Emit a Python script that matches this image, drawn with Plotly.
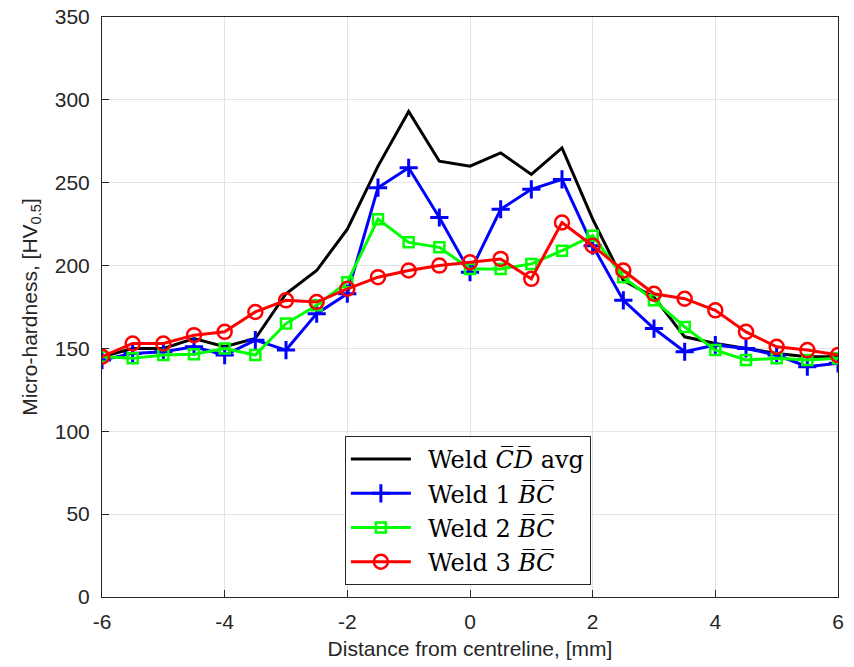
import plotly.graph_objects as go

distance = [-6, -5.5, -5, -4.5, -4, -3.5, -3, -2.5, -2, -1.5, -1, -0.5, 0,
            0.5, 1, 1.5, 2, 2.5, 3, 3.5, 4, 4.5, 5, 5.5, 6]

weld_cd_avg = [145, 150, 150, 156, 151, 156, 183, 197, 222, 260, 293, 263, 260,
               268, 255, 271, 228, 191, 181, 157, 153, 150, 147, 145, 145]
weld1_bc = [143, 147, 148, 151, 146, 155, 149, 171, 183, 247, 259, 229, 196,
            234, 246, 252, 212, 179, 162, 148, 152, 150, 146, 139, 141]
weld2_bc = [145, 144, 146, 146.5, 150, 146, 165, 176, 190, 228, 214, 211, 198,
            198, 201, 209, 218, 193, 179, 163, 149, 143, 144, 143, 144]
weld3_bc = [145, 153, 153, 158, 160, 172, 179, 178, 186, 193, 197, 200, 202,
            204, 192, 226, 212, 197, 183, 180, 173, 160, 151, 149, 146]

x_ticks = [-6, -4, -2, 0, 2, 4, 6]
y_ticks = [0, 50, 100, 150, 200, 250, 300, 350]

OL = "\u0305"
def over(s):
    return "".join(c + OL for c in s)

PAD = "\u2002"

fig = go.Figure()
fig.add_trace(go.Scatter(x=distance, y=weld_cd_avg, mode="lines",
                         line=dict(color="black", width=3),
                         name=PAD + "Weld <i>" + over("CD") + "</i> avg"))
fig.add_trace(go.Scatter(x=distance, y=weld1_bc, mode="lines+markers",
                         line=dict(color="#0000ff", width=3),
                         marker=dict(symbol="cross-thin-open", size=13,
                                     line=dict(color="#0000ff", width=3)),
                         name=PAD + "Weld 1 <i>" + over("BC") + "</i>"))
fig.add_trace(go.Scatter(x=distance, y=weld2_bc, mode="lines+markers",
                         line=dict(color="#00ff00", width=3),
                         marker=dict(symbol="square-open", size=10,
                                     line=dict(color="#00ff00", width=2.5)),
                         name=PAD + "Weld 2 <i>" + over("BC") + "</i>"))
fig.add_trace(go.Scatter(x=distance, y=weld3_bc, mode="lines+markers",
                         line=dict(color="#ff0000", width=3),
                         marker=dict(symbol="circle-open", size=14,
                                     line=dict(color="#ff0000", width=2.5)),
                         name=PAD + "Weld 3 <i>" + over("BC") + "</i>"))

axis_common = dict(showline=True, linecolor="#262626", linewidth=1, mirror=True,
                   ticks="inside", ticklen=7, tickcolor="#262626",
                   showgrid=True, gridcolor="#e3e3e3", gridwidth=1,
                   zeroline=False, automargin=False,
                   tickfont=dict(family="Liberation Sans, Arial", size=21, color="#262626"))

fig.update_xaxes(range=[-6, 6], tickvals=x_ticks, ticktext=[str(v) for v in x_ticks],
                 ticklabelstandoff=6,
                 title=dict(text="Distance from centreline, [mm]", standoff=9,
                            font=dict(family="Liberation Sans, Arial", size=21, color="#262626")),
                 **axis_common)
fig.update_yaxes(range=[0, 350], tickvals=y_ticks, ticktext=[str(v) for v in y_ticks],
                 ticklabelstandoff=7,
                 title=dict(text="Micro-hardness, [HV<sub>0.5</sub>]", standoff=11,
                            font=dict(family="Liberation Sans, Arial", size=21, color="#262626")),
                 **axis_common)

fig.update_layout(
    width=854, height=667,
    margin=dict(l=102, r=16, t=17, b=70, autoexpand=False),
    paper_bgcolor="white", plot_bgcolor="white",
    showlegend=True,
    legend=dict(x=0.330, y=0.2776, xanchor="left", yanchor="top",
                bgcolor="white", bordercolor="#262626", borderwidth=1,
                font=dict(family="DejaVu Serif, Liberation Serif", size=24, color="black"),
                tracegroupgap=0, itemwidth=60),
)

fig.write_html("out.html", config={"displayModeBar": False},
               post_script="document.body.style.margin='0';")
